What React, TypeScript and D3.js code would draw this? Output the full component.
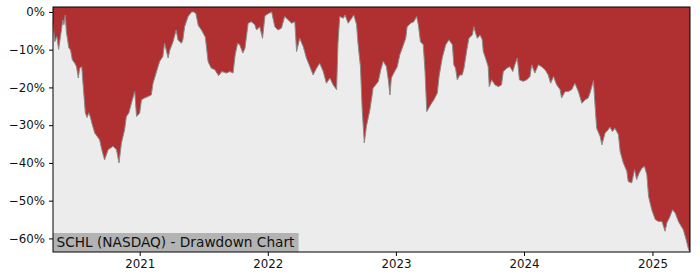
import React, { useEffect, useRef } from "react";
import * as d3 from "d3";

const dates = [
  "2020-04-29","2020-05-04","2020-05-10","2020-05-15","2020-05-23","2020-05-27","2020-05-30","2020-06-03","2020-06-06","2020-06-13",
  "2020-06-18","2020-06-23","2020-06-30","2020-07-05","2020-07-10","2020-07-14","2020-07-20","2020-07-23","2020-07-30","2020-08-04",
  "2020-08-09","2020-08-13","2020-08-19","2020-08-26","2020-09-02","2020-09-09","2020-09-15","2020-09-23","2020-10-03","2020-10-17",
  "2020-10-27","2020-11-03","2020-11-10","2020-11-19","2020-11-24","2020-12-01","2020-12-11","2020-12-18","2020-12-23","2021-01-01",
  "2021-01-06","2021-01-15","2021-01-25","2021-02-03","2021-02-08","2021-02-18","2021-02-27","2021-03-08","2021-03-13","2021-03-23",
  "2021-03-28","2021-04-06","2021-04-15","2021-04-20","2021-04-30","2021-05-04","2021-05-09","2021-05-19","2021-05-29","2021-06-04",
  "2021-06-10","2021-06-17","2021-06-26","2021-07-07","2021-07-15","2021-07-24","2021-08-03","2021-08-14","2021-08-23","2021-09-05",
  "2021-09-15","2021-09-24","2021-09-30","2021-10-07","2021-10-13","2021-10-22","2021-10-28","2021-11-06","2021-11-15","2021-11-25",
  "2021-11-30","2021-12-09","2021-12-17","2021-12-24","2022-01-02","2022-01-12","2022-01-21","2022-01-30","2022-02-09","2022-02-18",
  "2022-02-28","2022-03-10","2022-03-19","2022-03-24","2022-04-02","2022-04-12","2022-04-21","2022-05-01","2022-05-10","2022-05-20",
  "2022-05-29","2022-06-08","2022-06-17","2022-06-27","2022-07-06","2022-07-16","2022-07-20","2022-07-25","2022-08-04","2022-08-09",
  "2022-08-18","2022-08-28","2022-09-03","2022-09-11","2022-09-15","2022-09-22","2022-09-27","2022-10-03","2022-10-09","2022-10-19",
  "2022-10-25","2022-10-28","2022-11-12","2022-11-19","2022-11-26","2022-12-05","2022-12-11","2022-12-15","2022-12-19","2022-12-26",
  "2023-01-05","2023-01-12","2023-01-19","2023-01-29","2023-02-02","2023-02-12","2023-02-21","2023-03-01","2023-03-06","2023-03-12",
  "2023-03-20","2023-03-25","2023-03-30","2023-04-10","2023-04-19","2023-04-29","2023-05-04","2023-05-13","2023-05-23","2023-06-01",
  "2023-06-11","2023-06-15","2023-06-20","2023-06-25","2023-07-02","2023-07-09","2023-07-14","2023-07-22","2023-07-28","2023-08-07",
  "2023-08-11","2023-08-16","2023-08-21","2023-08-29","2023-09-04","2023-09-07","2023-09-15","2023-09-21","2023-09-24","2023-10-01",
  "2023-10-10","2023-10-20","2023-10-29","2023-11-03","2023-11-13","2023-11-22","2023-11-30","2023-12-06","2023-12-13","2023-12-19",
  "2023-12-30","2024-01-09","2024-01-18","2024-01-23","2024-02-01","2024-02-11","2024-02-20","2024-03-01","2024-03-10","2024-03-17",
  "2024-03-25","2024-04-03","2024-04-13","2024-04-17","2024-04-27","2024-05-06","2024-05-16","2024-05-25","2024-06-04","2024-06-14",
  "2024-06-23","2024-07-02","2024-07-07","2024-07-17","2024-07-21","2024-07-26","2024-08-05","2024-08-10","2024-08-19","2024-08-28",
  "2024-09-02","2024-09-09","2024-09-16","2024-09-26","2024-10-01","2024-10-10","2024-10-20","2024-10-24","2024-11-03","2024-11-11",
  "2024-11-17","2024-11-24","2024-12-02","2024-12-09","2024-12-16","2024-12-21","2024-12-30","2025-01-09","2025-01-18","2025-01-28",
  "2025-02-06","2025-02-11","2025-02-20","2025-02-27","2025-03-07","2025-03-16","2025-03-24","2025-03-30","2025-04-07","2025-04-14",
  "2025-04-18",
];

const drawdown = [
  -2.9,-7.9,-6.5,-9.9,-4.8,-2.1,-3.4,-0.8,-5.2,-9.5,
  -10.1,-12.7,-13.6,-14.5,-17.5,-14.9,-14.5,-18.4,-26.7,-28.0,
  -26.7,-27.7,-29.9,-32.1,-33.0,-33.9,-36.5,-39.2,-36.5,-35.6,
  -36.5,-40.0,-34.7,-31.2,-27.7,-26.8,-23.3,-21.1,-27.7,-26.8,
  -23.3,-22.8,-22.4,-22.0,-18.9,-15.8,-13.1,-11.8,-8.3,-12.2,
  -10.1,-7.9,-4.8,-7.4,-8.3,-7.4,-3.9,-1.2,0,0,
  -0.4,-3.6,-4.8,-6.7,-13.2,-14.9,-15.3,-16.9,-15.8,-16.2,
  -15.8,-16.2,-11.4,-8.3,-8.7,-10.9,-9.6,-3.0,-2.6,-3.4,
  -4.8,-3.9,-7.0,-1.0,-0.5,0,-3.9,-4.8,-4.3,-1.2,
  -2.1,-3.0,-2.6,-10.5,-7.0,-9.2,-12.2,-14.5,-16.7,-14.9,
  -13.6,-15.8,-18.9,-17.5,-19.3,-20.6,-8.3,-1.2,-1.7,-0.8,
  -3.0,-1.7,-0.8,-3.4,-8.3,-14.5,-25.9,-34.7,-30.3,-25.9,
  -22.2,-20.2,-18.4,-15.3,-13.1,-14.5,-18.4,-22.0,-17.5,-16.2,
  -14.5,-11.4,-9.6,-7.0,-3.9,-3.0,-2.6,-1.2,-3.4,-7.9,
  -8.7,-15.8,-26.4,-24.6,-23.3,-21.5,-17.1,-12.2,-8.7,-7.4,
  -8.7,-14.0,-14.9,-18.0,-16.7,-16.7,-14.9,-10.1,-7.0,-6.1,
  -3.9,-5.6,-7.0,-6.1,-7.4,-10.5,-12.7,-14.5,-19.8,-18.0,
  -19.3,-19.8,-19.3,-15.8,-14.9,-14.5,-15.8,-14.0,-12.2,-18.0,
  -18.4,-18.0,-17.1,-14.0,-16.2,-14.0,-14.5,-15.3,-16.7,-18.9,
  -17.1,-19.3,-20.6,-22.8,-21.1,-21.1,-20.6,-18.9,-21.1,-24.2,
  -23.3,-22.8,-21.5,-18.2,-24.1,-30.8,-33.0,-35.2,-32.1,-31.2,
  -30.5,-31.7,-30.8,-32.5,-37.0,-40.0,-42.2,-44.9,-45.3,-41.8,
  -44.4,-42.7,-41.4,-40.9,-43.1,-48.9,-52.4,-55.0,-55.5,-55.5,
  -58.1,-55.9,-54.2,-52.4,-53.3,-55.5,-56.8,-57.7,-60.3,-63.0,
  -63.5,
];

const yTicks = [0, -10, -20, -30, -40, -50, -60];
const xTickYears = [2021, 2022, 2023, 2024, 2025];
const title = "SCHL (NASDAQ) - Drawdown Chart";

export default function App() {
  const ref = useRef<SVGSVGElement | null>(null);

  useEffect(() => {
    const W = 700, H = 280;
    const m = { left: 53, right: 10, top: 7, bottom: 28 };
    const svg = d3.select(ref.current);
    svg.selectAll("*").remove();

    const parse = d3.timeParse("%Y-%m-%d");
    const data = dates.map((d, i) => ({ date: parse(d) as Date, v: drawdown[i] }));

    const x = d3.scaleTime()
      .domain([data[0].date, data[data.length - 1].date])
      .range([m.left, W - m.right]);
    const y = d3.scaleLinear().domain([-63.6, 1.3]).range([H - m.bottom, m.top]);

    const font = "DejaVu Sans, sans-serif";

    svg.append("rect")
      .attr("x", m.left).attr("y", m.top)
      .attr("width", W - m.left - m.right).attr("height", H - m.top - m.bottom)
      .attr("fill", "#ececec");

    const area = d3.area<{ date: Date; v: number }>()
      .x(d => x(d.date))
      .y0(m.top)
      .y1(d => y(d.v));
    svg.append("path").datum(data).attr("d", area as any).attr("fill", "#b03031");

    const line = d3.line<{ date: Date; v: number }>().x(d => x(d.date)).y(d => y(d.v));
    svg.append("path").datum(data).attr("d", line as any)
      .attr("fill", "none").attr("stroke", "#8a8a8a").attr("stroke-width", 1);

    // title box
    const tg = svg.append("g");
    const txt = tg.append("text")
      .attr("x", m.left + 3.5).attr("y", H - m.bottom - 5)
      .attr("font-family", font).attr("font-size", 13.7).attr("fill", "#111")
      .text(title);
    const bb = (txt.node() as SVGTextElement).getBBox();
    tg.insert("rect", "text")
      .attr("x", m.left).attr("y", H - m.bottom - 19)
      .attr("width", bb.width + 7).attr("height", 19)
      .attr("fill", "#b3b3b3");

    // frame
    svg.append("rect")
      .attr("x", m.left).attr("y", m.top)
      .attr("width", W - m.left - m.right).attr("height", H - m.top - m.bottom)
      .attr("fill", "none").attr("stroke", "#000").attr("stroke-width", 1);

    const xAxis = d3.axisBottom(x)
      .tickValues(xTickYears.map(yr => new Date(yr, 0, 1)))
      .tickFormat(d3.timeFormat("%Y") as any)
      .tickSize(4).tickPadding(4);
    const gx = svg.append("g").attr("transform", `translate(0,${H - m.bottom})`).call(xAxis);
    gx.select(".domain").remove();
    gx.selectAll("text").attr("font-family", font).attr("font-size", 11.8).attr("fill", "#111");

    const yAxis = d3.axisLeft(y)
      .tickValues(yTicks)
      .tickFormat((d: any) => `${d < 0 ? "\u2212" : ""}${Math.abs(d)}%`)
      .tickSize(4).tickPadding(4);
    const gy = svg.append("g").attr("transform", `translate(${m.left},0)`).call(yAxis);
    gy.select(".domain").remove();
    gy.selectAll("text").attr("font-family", font).attr("font-size", 11.8).attr("fill", "#111");
  }, []);

  return (
    <svg ref={ref} width={700} height={280}
      style={{ position: "absolute", left: 0, top: 0, display: "block", background: "#fff" }} />
  );
}
